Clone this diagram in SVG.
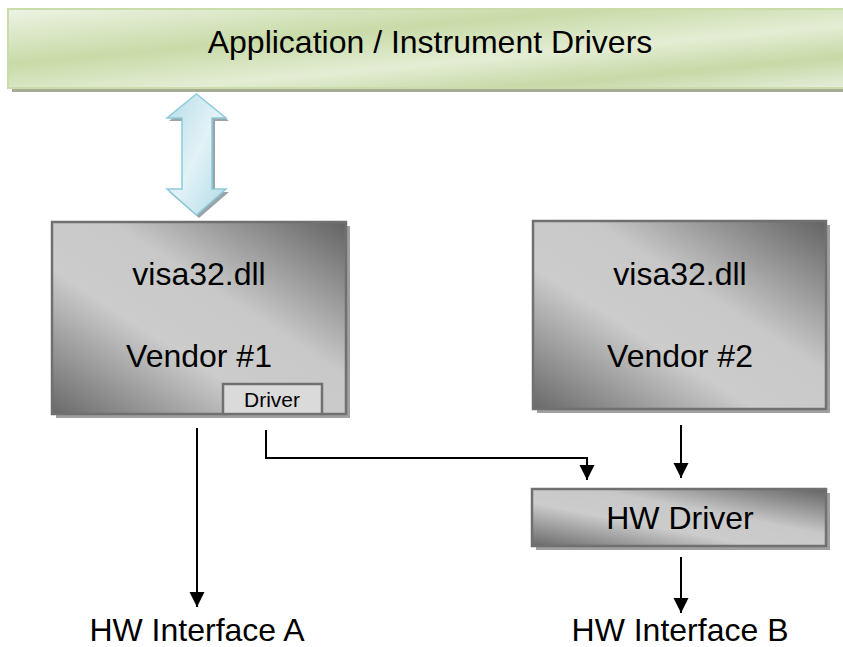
<svg xmlns="http://www.w3.org/2000/svg" width="843" height="647" viewBox="0 0 843 647">
<defs>
<linearGradient id="green" x1="0" y1="0" x2="1" y2="1">
<stop offset="0" stop-color="#eef3e4"/>
<stop offset="0.35" stop-color="#c8dba8"/>
<stop offset="0.6" stop-color="#e4edd4"/>
<stop offset="0.8" stop-color="#c6d9a6"/>
<stop offset="1" stop-color="#e6eedb"/>
</linearGradient>
<linearGradient id="gray" x1="0" y1="1" x2="1" y2="0">
<stop offset="0" stop-color="#696969"/>
<stop offset="0.38" stop-color="#cccccc"/>
<stop offset="0.6" stop-color="#c8c8c8"/>
<stop offset="1" stop-color="#636363"/>
</linearGradient>
<linearGradient id="blue" x1="0" y1="0" x2="1" y2="1">
<stop offset="0" stop-color="#b7dde8"/>
<stop offset="0.5" stop-color="#e2f2f6"/>
<stop offset="1" stop-color="#b2dbe7"/>
</linearGradient>
<marker id="ah" markerUnits="userSpaceOnUse" markerWidth="15" markerHeight="16" viewBox="0 -8 15 16" refX="15" refY="0" orient="auto">
<path d="M0,-7.5 L15,0 L0,7.5 z" fill="#000"/>
</marker>
<style>
.box{stroke:#707070;stroke-width:2.5}
.shadow{fill:#a0a0a0}
.t{font-family:"Liberation Sans",Arial,sans-serif;fill:#000;text-anchor:middle}
.big{font-size:32px}
.conn{fill:none;stroke:#000;stroke-width:2}
</style>
</defs>

<g id="app">
<rect x="12" y="13" width="840" height="79" fill="#a4ad94"/>
<rect x="8" y="9" width="840" height="79" fill="url(#green)" stroke="#c9dcaa" stroke-width="2"/>
<text class="t big" x="430" y="53">Application / Instrument Drivers</text>
</g>

<g id="bidir">
<path d="M199,97 L229,121 L215,121 L215,192 L229,192 L199,218 L169,192 L184,192 L184,121 L169,121 z" fill="#9aa4a8"/>
<path d="M196.5,94 L226,118 L212,118 L212,189 L226,189 L196.5,215 L167,189 L182,189 L182,118 L167,118 z" fill="url(#blue)" stroke="#8ccbdc" stroke-width="1.5"/>
</g>

<g id="vendor1">
<rect x="56" y="226" width="294" height="192" class="shadow"/>
<rect x="52" y="222" width="294" height="192" fill="url(#gray)" class="box"/>
<text class="t big" x="199" y="285">visa32.dll</text>
<text class="t big" x="199" y="367">Vendor #1</text>
</g>

<g id="driver">
<rect x="227" y="388" width="96" height="30" class="shadow"/>
<rect x="223" y="384" width="99" height="30" fill="#dadada" class="box"/>
<text class="t" x="272" y="407" font-size="21">Driver</text>
</g>

<g id="vendor2">
<rect x="537" y="225" width="293" height="188" class="shadow"/>
<rect x="533" y="221" width="293" height="188" fill="url(#gray)" class="box"/>
<text class="t big" x="680" y="285">visa32.dll</text>
<text class="t big" x="680" y="367">Vendor #2</text>
</g>

<g id="hwdriver">
<rect x="536" y="493" width="294" height="57" class="shadow"/>
<rect x="532" y="489" width="294" height="57" fill="url(#gray)" class="box"/>
<text class="t big" x="680" y="529">HW Driver</text>
</g>

<g id="hwa">
<text class="t big" x="197" y="641">HW Interface A</text>
</g>
<g id="hwb">
<text class="t big" x="680" y="641">HW Interface B</text>
</g>

<g id="connectors">
<line x1="197" y1="428" x2="197" y2="607" class="conn" marker-end="url(#ah)"/>
<path d="M266,430 V458 H587 V480" class="conn" marker-end="url(#ah)"/>
<line x1="681" y1="425" x2="681" y2="478" class="conn" marker-end="url(#ah)"/>
<line x1="681" y1="557" x2="681" y2="613" class="conn" marker-end="url(#ah)"/>
</g>
</svg>
